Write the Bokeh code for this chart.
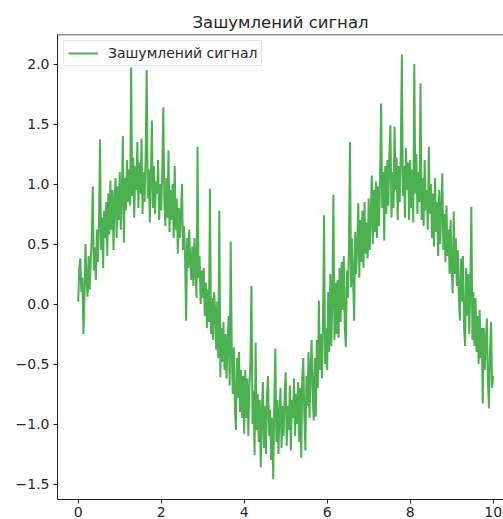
import numpy as np
from bokeh.plotting import figure
from bokeh.models import Range1d, FixedTicker, Legend, LegendItem, Span
from bokeh.embed import file_html
from bokeh.resources import INLINE

# ---- data ----
title_text = "Зашумлений сигнал"
series_label = "Зашумлений сигнал"

# noisy signal, sampled every 0.025 from x = 0 to x = 10
signal = [
    0.02, 0.30, 0.38, 0.10, 0.22, -0.25, 0.05, 0.50, 0.18, 0.06,
    0.40, 0.12, 0.35, 0.55, 0.98, 0.28, 0.47, 0.20, 0.62, 0.35,
    0.70, 1.37, 0.45, 0.72, 0.30, 0.78, 0.55, 0.85, 0.40, 0.92,
    0.58, 1.03, 0.62, 0.95, 0.45, 0.88, 1.05, 0.55, 0.98, 0.70,
    1.10, 0.62, 0.90, 1.40, 0.51, 1.05, 0.78, 1.20, 0.85, 1.12,
    0.82, 1.97, 0.90, 1.22, 0.72, 1.15, 0.95, 1.35, 0.80, 1.18,
    0.92, 1.38, 0.75, 1.10, 0.85, 1.25, 1.95, 0.88, 1.12, 0.68,
    1.05, 1.53, 0.80, 1.15, 0.75, 1.02, 0.92, 1.20, 0.70, 1.00,
    0.78, 1.10, 1.64, 0.85, 0.65, 1.05, 0.72, 1.28, 0.60, 0.95,
    0.70, 1.00, 0.55, 1.15, 0.62, 0.88, 0.42, 0.80, 0.55, 0.75,
    1.00, 0.45, 0.65, 0.38, -0.14, 0.55, 0.30, 0.62, 0.35, 0.20,
    0.48, 0.15, 0.55, 0.30, 0.05, 1.31, 0.22, 0.40, 0.00, 0.28,
    0.05, 0.30, -0.10, 0.18, -0.20, 0.12, -0.15, 0.96, -0.25, 0.05,
    -0.30, 0.10, -0.05, -0.38, 0.02, -0.45, 0.78, -0.61, -0.20, -0.48,
    -0.15, -0.55, -0.25, -0.62, -0.30, -0.10, -0.68, 0.52, -0.40, -0.75,
    -0.36, -0.85, -1.05, -0.45, -0.78, -0.40, -0.90, -0.55, -0.95, -0.60,
    -1.08, -0.55, -0.95, -0.62, -1.10, -0.70, -0.48, 0.15, -1.00, -0.72,
    -1.26, -0.32, -1.05, -0.75, -1.15, -0.80, -1.36, -0.90, -0.65, -1.20,
    -0.85, -1.25, -0.75, -0.60, -1.10, -0.88, -1.30, -0.95, -1.46, -0.82,
    -0.37, -1.15, -0.80, -1.25, -0.92, -0.70, -1.20, -0.85, -1.10, -0.75,
    -0.57, -1.18, -0.85, -1.05, -0.68, -1.22, -0.80, -0.95, -0.62, -1.10,
    -0.75, -1.00, -0.65, -1.15, -0.70, -1.28, -0.62, -0.45, -0.95, -1.22,
    -0.60, -0.85, -0.40, -0.95, -0.55, -0.30, -0.75, -0.97, -0.45, -0.94,
    -0.30, -0.70, 0.03, -0.55, -0.25, -0.62, -0.15, 0.74, -0.50, -0.20,
    -0.55, 0.10, -0.40, 0.25, -0.35, 0.05, 0.91, -0.30, 0.18, -0.25,
    0.20, -0.28, 0.30, -0.15, 0.35, -0.05, 0.40, -0.20, -0.36, 0.28,
    0.05, 0.48, 1.35, 0.14, 0.55, 0.20, -0.14, 0.60, 0.25, 0.50,
    0.84, 0.22, 0.70, 0.35, 0.78, 0.30, 0.85, 0.42, 0.68, 0.38,
    0.88, 0.45, 0.72, 1.07, 0.50, 0.95, 0.60, 1.02, 0.55, 0.98,
    0.65, 1.05, 1.67, 0.80, 1.10, 0.53, 1.15, 0.75, 1.20, 0.82,
    1.25, 1.49, 0.72, 1.10, 0.80, 1.48, 0.95, 1.22, 0.70, 1.15,
    0.85, 1.28, 2.08, 0.90, 1.15, 0.72, 1.30, 0.95, 1.18, 0.70,
    1.20, 0.80, 1.12, 0.68, 2.00, 0.92, 1.25, 0.75, 1.10, 0.85,
    1.84, 0.70, 1.05, 0.65, 1.20, 0.78, 0.95, 0.62, 1.31, 0.75,
    1.00, 0.55, 0.92, 0.48, 1.05, 0.60, 0.85, 0.40, 0.95, 0.50,
    0.80, 1.09, 0.45, 0.75, 0.35, 0.82, 0.40, 0.62, 0.25, 0.70,
    0.30, 0.09, 0.77, 0.25, 0.55, 0.15, 0.45, 0.05, -0.14, 0.38,
    0.02, 0.40, -0.20, -0.35, 0.30, -0.10, 0.25, -0.25, 0.15, 0.81,
    -0.30, 0.10, -0.35, 0.05, -0.40, -0.10, -0.50, -0.05, -0.45, -0.20,
    -0.83, -0.20, -0.55, -0.30, -0.12, -0.65, -0.87, -0.40, -0.15, -0.70,
    -0.60,
]
x_first, x_last = 0.0, 10.0
x = np.linspace(x_first, x_last, len(signal))

x_ticks = [0, 2, 4, 6, 8, 10]
y_ticks = [-1.5, -1.0, -0.5, 0.0, 0.5, 1.0, 1.5, 2.0]
y_tick_labels = ["\u22121.5", "\u22121.0", "\u22120.5", "0.0", "0.5", "1.0", "1.5", "2.0"]

# ---- figure ----
FONT = "DejaVu Sans"
TXT = "#262626"
SPINE = "#222222"
Y_TOP = 2.246

p = figure(
    width=503, height=519,
    output_backend="svg", toolbar_location=None,
    x_range=Range1d(-0.5, 10.25), y_range=Range1d(-1.629, Y_TOP),
    min_border_left=57, min_border_right=0, min_border_top=34, min_border_bottom=20,
)
p.background_fill_color = "white"
p.border_fill_color = "white"
p.outline_line_color = None

p.title.text = title_text
p.title.align = "center"
p.title.text_font = FONT
p.title.text_font_size = "16.5px"
p.title.text_font_style = "normal"
p.title.text_color = TXT
p.title.standoff = 6

p.xgrid.visible = False
p.ygrid.visible = False

p.xaxis.ticker = FixedTicker(ticks=x_ticks)
p.xaxis.major_label_overrides = {t: str(t) for t in x_ticks}
p.yaxis.ticker = FixedTicker(ticks=y_ticks)
p.yaxis.major_label_overrides = {t: lab for t, lab in zip(y_ticks, y_tick_labels)}
for ax in (p.xaxis[0], p.yaxis[0]):
    ax.minor_tick_line_color = None
    ax.major_tick_in = 0
    ax.major_tick_out = 4
    ax.major_tick_line_color = SPINE
    ax.axis_line_color = SPINE
    ax.major_label_text_font = FONT
    ax.major_label_text_font_size = "14px"
    ax.major_label_text_color = TXT
    ax.major_label_standoff = 4
p.xaxis[0].major_label_standoff = 3

# top spine
p.add_layout(Span(location=Y_TOP, dimension="width", line_color=SPINE, line_width=1.5))

r = p.line(x, signal, line_color="#4CAF50", line_width=2)

legend = Legend(items=[LegendItem(label=series_label, renderers=[r])], location="top_left")
legend.margin = 6
legend.padding = 4
legend.spacing = 0
legend.glyph_width = 30
legend.glyph_height = 16
legend.label_height = 16
legend.label_standoff = 10
legend.label_text_font = FONT
legend.label_text_font_size = "14px"
legend.label_text_color = TXT
legend.border_line_color = "#cccccc"
legend.background_fill_alpha = 0.8
p.add_layout(legend)

open("out.html", "w").write(file_html(p, INLINE))
